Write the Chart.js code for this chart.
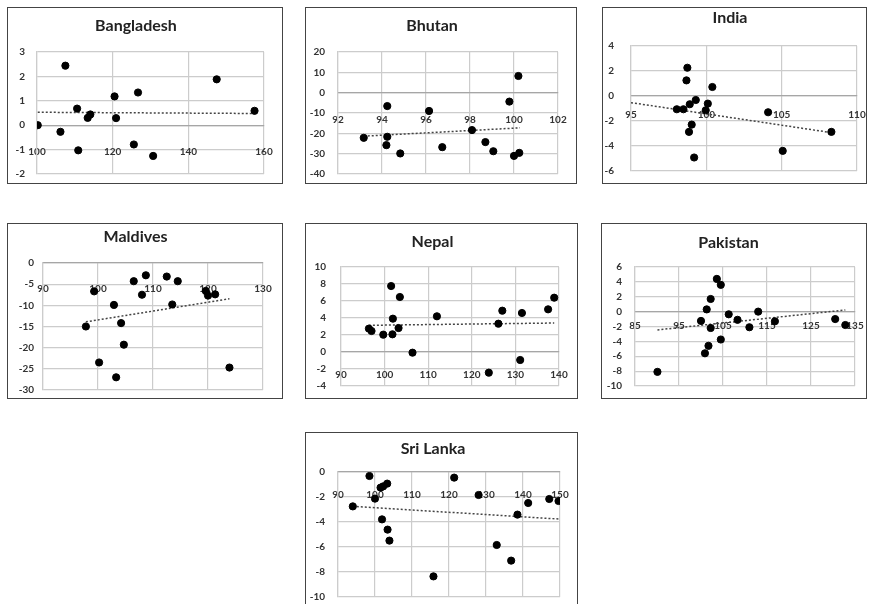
<!DOCTYPE html>
<html>
<head>
<meta charset="utf-8">
<script src="https://cdn.jsdelivr.net/npm/chart.js@4"></script>
<style>
  body { margin: 0; background: #fff; width: 869px; height: 604px; overflow: hidden; position: relative; }
  .panel { position: absolute; border: 1px solid #444; box-sizing: border-box; background: #fff; }
  .panel canvas { display: block; }
</style>
</head>
<body>
<script>
const countries = ['Bangladesh', 'Bhutan', 'India', 'Maldives', 'Nepal', 'Pakistan', 'Sri Lanka'];

// values
const bangladeshX = [100.2, 106.2, 107.5, 110.6, 110.9, 113.4, 114.1, 120.5, 120.9, 125.6, 126.7, 130.7, 147.5, 157.5];
const bangladeshY = [0, -0.27, 2.44, 0.68, -1.03, 0.30, 0.44, 1.18, 0.29, -0.79, 1.34, -1.26, 1.88, 0.59];

const bhutanX = [93.17, 94.24, 94.24, 94.2, 94.83, 96.14, 96.74, 98.09, 98.7, 99.06, 99.79, 100.2, 100.0, 100.24];
const bhutanY = [-22.2, -6.6, -21.7, -25.8, -29.9, -9.0, -26.8, -18.4, -24.3, -28.8, -4.4, 8.2, -31.1, -29.6];

const indiaX = [98.74, 98.68, 100.4, 98.04, 98.48, 98.9, 99.3, 100.1, 99.96, 99.03, 98.85, 99.19, 104.1, 105.07, 108.3];
const indiaY = [2.26, 1.25, 0.72, -1.06, -1.06, -0.66, -0.32, -0.61, -1.14, -2.29, -2.87, -4.92, -1.30, -4.39, -2.87];

const maldivesX = [97.8, 99.3, 100.2, 102.9, 103.3, 104.2, 104.7, 106.5, 108.0, 108.7, 112.5, 113.5, 114.5, 119.6, 120.0, 121.3, 123.9];
const maldivesY = [-15.0, -6.7, -23.5, -9.9, -27.0, -14.2, -19.3, -4.3, -7.5, -2.9, -3.2, -9.8, -4.3, -6.6, -7.7, -7.4, -24.7];

const nepalX = [96.4, 97.0, 99.7, 101.5, 101.8, 101.9, 103.2, 103.5, 106.4, 112.0, 123.9, 126.1, 127.0, 131.1, 131.5, 137.5, 138.9];
const nepalY = [2.75, 2.47, 2.04, 7.76, 2.08, 3.92, 2.82, 6.47, -0.08, 4.2, -2.43, 3.33, 4.86, -0.94, 4.59, 5.02, 6.39];

const pakistanX = [90.1, 100.0, 100.9, 101.3, 101.7, 102.2, 102.2, 103.6, 104.5, 104.5, 106.3, 108.3, 111.0, 113.0, 116.8, 130.5, 132.8];
const pakistanY = [-8.1, -1.25, -5.6, 0.3, -4.6, 1.7, -2.2, 4.4, 3.6, -3.75, -0.36, -1.1, -2.1, 0.0, -1.3, -1.0, -1.8];

const sriLankaX = [94.0, 98.5, 100.0, 101.5, 102.2, 103.3, 101.9, 103.4, 103.9, 115.8, 121.4, 128.0, 132.9, 136.8, 138.5, 141.4, 147.1, 149.6];
const sriLankaY = [-2.75, -0.32, -2.13, -1.25, -1.15, -0.93, -3.79, -4.61, -5.49, -8.35, -0.45, -1.84, -5.84, -7.09, -3.41, -2.48, -2.16, -2.32];

const xValues = [bangladeshX, bhutanX, indiaX, maldivesX, nepalX, pakistanX, sriLankaX];
const yValues = [bangladeshY, bhutanY, indiaY, maldivesY, nepalY, pakistanY, sriLankaY];

// linear trendline ends: [x start, x end] and [y start, y end]
const trendX = [[100.2, 157.5], [93.17, 100.27], [95, 108.3], [97.8, 123.9], [96.4, 138.9], [90.1, 132.8], [94.0, 149.6]];
const trendY = [[0.53, 0.48], [-21.4, -17.3], [-0.53, -2.93], [-13.9, -8.45], [3.14, 3.41], [-2.46, 0.22], [-2.75, -3.76]];

// axis ticks: [min, max, step]
const xTicks = [[100, 160, 20], [92, 102, 2], [95, 110, 5], [90, 130, 10], [90, 140, 10], [85, 135, 10], [90, 150, 10]];
const yTicks = [[-2, 3, 1], [-40, 20, 10], [-6, 4, 2], [-30, 0, 5], [-4, 10, 2], [-10, 6, 2], [-10, 0, 2]];

// panel frame and plot area in page pixels: box [l, t, r, b], plot [l, t, r, b]
const layout = [
  { box: [7, 7, 283, 184], plot: [37, 52, 264, 174], titleY: 26, xPad: 21, yPad: 12 },
  { box: [305, 7, 577, 184], plot: [338, 52, 558, 174], titleY: 26, xPad: 21, yPad: 13 },
  { box: [602, 7, 867, 184], plot: [631, 46, 857, 171], titleY: 18, xPad: 13, yPad: 17 },
  { box: [7, 223, 283, 399], plot: [43, 263, 263, 390], titleY: 237, xPad: 20, yPad: 9 },
  { box: [305, 223, 578, 399], plot: [341, 267, 559, 386], titleY: 242, xPad: 17, yPad: 15 },
  { box: [601, 223, 867, 399], plot: [635, 267, 855, 386], titleY: 243, xPad: 8, yPad: 13 },
  { box: [305, 432, 578, 616], plot: [338, 472, 560, 597], titleY: 449, xPad: 17, yPad: 13 },
];

const tickFont = { family: 'Lato', size: 10, weight: 'bold' };

countries.forEach(function (name, i) {
  const g = layout[i];
  const [bl, bt, br, bb] = g.box;
  const [pl, pt, pr, pb] = g.plot;

  const div = document.createElement('div');
  div.className = 'panel';
  div.style.left = bl + 'px';
  div.style.top = bt + 'px';
  div.style.width = (br - bl) + 'px';
  div.style.height = (bb - bt) + 'px';
  const canvas = document.createElement('canvas');
  canvas.width = br - bl - 2;
  canvas.height = bb - bt - 2;
  div.appendChild(canvas);
  document.body.appendChild(div);

  const xs = xValues[i];
  const ys = yValues[i];
  const points = xs.map((x, k) => ({ x: x, y: ys[k] }));
  const trend = trendX[i].map((x, k) => ({ x: x, y: trendY[i][k] }));

  const yAxisWidth = pl - (bl + 1);
  const fontSize = 16;
  const titleTop = g.titleY - (bt + 1) - fontSize * 0.6;
  const titleBottom = pt - g.titleY - fontSize * 0.6;

  new Chart(canvas, {
    type: 'scatter',
    data: {
      datasets: [
        {
          type: 'scatter',
          data: points,
          backgroundColor: '#000',
          borderColor: '#000',
          pointRadius: 3.6,
          order: 0,
        },
        {
          type: 'line',
          data: trend,
          borderColor: '#444',
          borderWidth: 1.5,
          borderDash: [2, 2],
          pointRadius: 0,
          fill: false,
          order: 1,
        },
      ],
    },
    options: {
      responsive: false,
      animation: false,
      layout: {
        padding: { left: 0, top: 0, right: (br - 1) - pr, bottom: (bb - 1) - pb },
      },
      plugins: {
        legend: { display: false },
        tooltip: { enabled: false },
        title: {
          display: true,
          text: name,
          color: '#222',
          font: { family: 'Lato', size: fontSize, weight: 'bold' },
          padding: { top: titleTop, bottom: titleBottom },
        },
      },
      scales: {
        x: {
          type: 'linear',
          position: { y: 0 },
          min: xTicks[i][0],
          max: xTicks[i][1],
          ticks: {
            stepSize: xTicks[i][2],
            autoSkip: false,
            maxRotation: 0,
            padding: g.xPad,
            color: '#333',
            font: tickFont,
          },
          grid: { color: '#cccccc', lineWidth: 1.2, drawTicks: false },
          border: { color: '#a6a6a6', width: 1.2 },
          afterFit: function (scale) {
            // labels may hang over the plot edges, keep the plot area where it is
            scale.paddingLeft = 0;
            scale.paddingRight = 0;
          },
        },
        y: {
          type: 'linear',
          min: yTicks[i][0],
          max: yTicks[i][1],
          ticks: {
            stepSize: yTicks[i][2],
            autoSkip: false,
            padding: g.yPad,
            color: '#333',
            font: tickFont,
          },
          grid: { color: '#cccccc', lineWidth: 1.2, drawTicks: false },
          border: { color: '#cccccc', width: 1.2 },
          afterFit: function (scale) {
            scale.width = yAxisWidth;
            scale.paddingTop = 0;
            scale.paddingBottom = 0;
          },
        },
      },
    },
  });
});
</script>
</body>
</html>
